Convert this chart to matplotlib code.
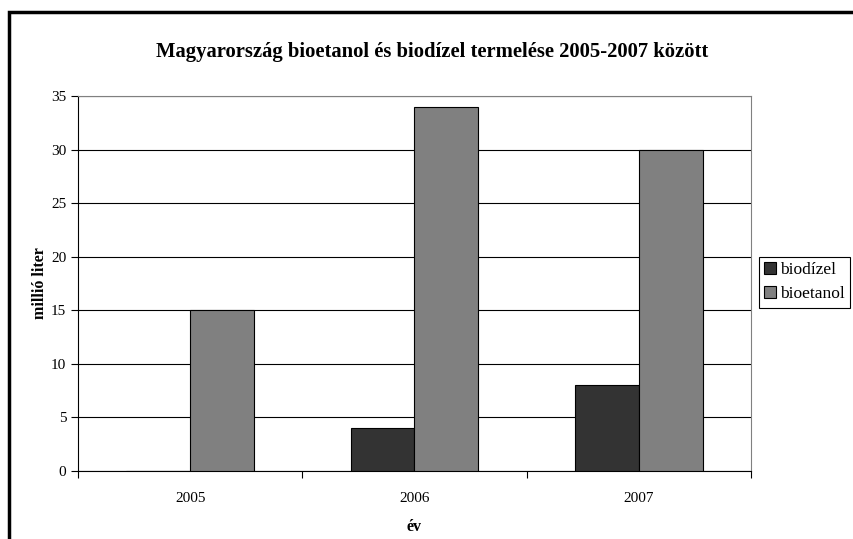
import matplotlib
matplotlib.use("Agg")
import matplotlib.pyplot as plt
from matplotlib.patches import Rectangle
import numpy as np

years = ["2005", "2006", "2007"]
biodizel = [0, 4, 8]
bioetanol = [15, 34, 30]
series_names = ["biodízel", "bioetanol"]
colors = ["#333333", "#808080"]

plt.rcParams['font.family'] = ['Liberation Serif', 'DejaVu Serif']

fig = plt.figure(figsize=(8.54, 5.39), dpi=100)
ax = fig.add_axes([78/854, 1-471/539, (751-78)/854, (471-96)/539])

x = np.arange(len(years))
w = 0.285
ax.bar(x - w/2, biodizel, w, color=colors[0], edgecolor='black', linewidth=0.8, label=series_names[0], zorder=3)
ax.bar(x + w/2, bioetanol, w, color=colors[1], edgecolor='black', linewidth=0.8, label=series_names[1], zorder=3)

ax.set_xlim(-0.5, 2.5)
ax.set_ylim(0, 35)
ax.set_yticks(np.arange(0, 36, 5))
ax.yaxis.grid(True, color='black', linewidth=0.8, zorder=0)
ax.set_axisbelow(True)
ax.set_xticks(x)
ax.set_xticklabels(years)
ax.set_xticks([-0.5, 0.5, 1.5, 2.5], minor=True)
ax.tick_params(axis='x', which='major', length=0, labelsize=11, pad=15)
ax.tick_params(axis='x', which='minor', length=5, direction='out', width=0.8)
ax.tick_params(axis='y', length=5, direction='out', width=0.8, labelsize=11, pad=3.5)

for s in ['top', 'right']:
    ax.spines[s].set_color('#808080')
    ax.spines[s].set_linewidth(0.8)
for s in ['left', 'bottom']:
    ax.spines[s].set_color('black')
    ax.spines[s].set_linewidth(0.8)

ax.set_xlabel("év", fontsize=11.5, fontweight='bold', labelpad=10)
ax.set_ylabel("millió liter", fontsize=11.5, fontweight='bold', labelpad=2)

fig.text(432/854, 1-52/539, "Magyarország bioetanol és biodízel termelése 2005-2007 között",
         ha='center', va='center', fontsize=14.9, fontweight='bold')

leg = fig.legend(loc='upper left', bbox_to_anchor=(759/854, 1-257/539), fontsize=12.5,
                 frameon=True, fancybox=False, edgecolor='black', framealpha=1,
                 handlelength=0.7, handleheight=0.7, handletextpad=0.2,
                 borderpad=0.3, labelspacing=0.45, borderaxespad=0)
leg.get_frame().set_linewidth(0.8)

fig.add_artist(Rectangle((9.5/854, -0.1), 1.2, 1-11.5/539+0.1, transform=fig.transFigure,
                         fill=False, edgecolor='black', linewidth=2.5, clip_on=False))

fig.savefig("out.png", dpi=100)
